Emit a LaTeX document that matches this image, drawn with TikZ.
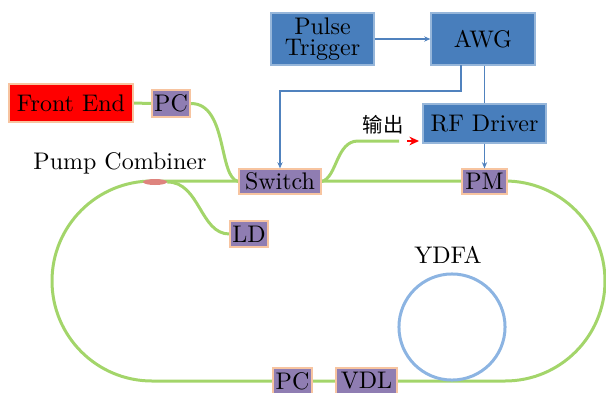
\documentclass[tikz,border=0pt]{standalone}
\usepackage{fontspec}
\newfontfamily\cjk{Noto Sans CJK SC}
\usetikzlibrary{arrows.meta,backgrounds,shapes.geometric}
\definecolor{fibergreen}{RGB}{163,213,106}
\definecolor{boxblue}{RGB}{72,126,188}
\definecolor{boxblueedge}{RGB}{150,182,218}
\definecolor{boxpurple}{RGB}{143,125,178}
\definecolor{peach}{RGB}{247,196,160}
\definecolor{sigblue}{RGB}{80,130,190}
\definecolor{ringblue}{RGB}{140,180,226}
\definecolor{combiner}{RGB}{222,132,126}
\begin{document}
\begin{tikzpicture}[x=0.4167pt,y=-0.4167pt,
  sz/.style 2 args={minimum width=#1*0.4167pt, minimum height=#2*0.4167pt, inner sep=0pt},
  bluebox/.style={fill=boxblue, draw=boxblueedge, line width=0.5pt},
  purplebox/.style={fill=boxpurple, draw=peach, line width=0.5pt},
  redbox/.style={fill=red, draw=peach, line width=0.5pt},
  fiber/.style={draw=fibergreen, line width=1.25pt},
  sig/.style={draw=sigblue, line width=0.45pt},
  sigarrow/.style={sig, -{Stealth[length=2.6pt,width=2.2pt]}},
  plain/.style={inner sep=0pt}]
\useasboundingbox (0,0) rectangle (606,392);

% nodes
\node[redbox, sz={124}{38}] (frontend) at (71,103) {Front End};
\node[purplebox, sz={38}{27}] (pc1) at (171,103.5) {PC};
\node[purplebox, sz={82}{25}] (switch) at (280,181.5) {Switch};
\node[purplebox, sz={45}{25}] (pm) at (484.5,181.5) {PM};
\node[bluebox, sz={103}{52}, align=center, font={\fontsize{10}{9}\selectfont}] (pulse) at (322.5,39) {Pulse\\Trigger};
\node[bluebox, sz={104}{52}] (awg) at (483,39) {AWG};
\node[bluebox, sz={123}{39}] (rf) at (484.5,123.5) {RF Driver};
\node[purplebox, sz={38}{26}] (ld) at (249,234) {LD};
\node[purplebox, sz={39}{26}] (pc2) at (292.5,381) {PC};
\node[purplebox, sz={61}{26}] (vdl) at (366.5,381) {VDL};
\node[ellipse, fill=combiner, sz={24}{6}] (comb) at (155,182) {};
\node[plain] (comblabel) at (120,163) {Pump Combiner};
\node[plain] (ydfalabel) at (448,255) {YDFA};
\node[plain, font=\cjk\fontsize{8.5}{10}\selectfont] (outlabel) at (383,125) {输出};
\coordinate (outend) at (399,141);
\coordinate (redstart) at (407,141);
\coordinate (redend) at (419,141);
\coordinate (awgleft) at (461,65);
\coordinate (bend1) at (461,91);
\coordinate (bend2) at (280,91);

\begin{scope}[on background layer]
  % ring
  \draw[fiber] (152,181) -- (505,181) arc[start angle=90, end angle=-90, radius=41.67pt]
     -- (152,381) arc[start angle=270, end angle=90, radius=41.67pt] -- cycle;
  \draw[draw=ringblue, line width=1.25pt] (452,327) circle[radius=22.1pt];
  % fiber connectors
  \draw[fiber] (frontend.east) -- (pc1.west);
  \draw[fiber] (pc1.east) .. controls (228,103) and (218,178) .. (switch.west);
  \draw[fiber] (comb.east) .. controls (200,182) and (200,234) .. (ld.west);
  \draw[fiber] (switch.east) .. controls (337,178) and (336,141) .. (358,141) -- (outend);
\end{scope}

% red output arrow
\draw[red, line width=0.8pt, -{Stealth[length=4pt,width=3.6pt]}] (redstart) -- (redend);

% signal connectors
\draw[sigarrow] (pulse.east) -- (awg.west);
\draw[sigarrow] (awgleft) -- (bend1) -- (bend2) -- (switch.north);
\draw[sig] (rf.north |- awg.south) -- (rf.north);
\draw[sigarrow] (rf.south) -- (pm.north);
\end{tikzpicture}
\end{document}
